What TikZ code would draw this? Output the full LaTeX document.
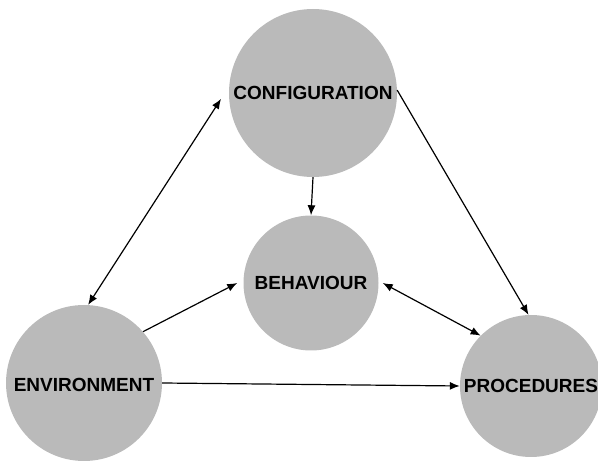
\documentclass[tikz,border=0pt]{standalone}
\usepackage{fontspec}
\newfontfamily\tagfont{Liberation Sans}
\usetikzlibrary{arrows.meta}

\begin{document}
\begin{tikzpicture}[
      x=1pt, y=-1pt,
      ball/.style={circle, fill=black!27, draw=none, inner sep=0pt},
      tag/.style={inner sep=0pt, font=\tagfont\bfseries\fontsize{19}{19}\selectfont},
      one_way/.style={line width=1.2pt, -{Latex[length=10pt,width=8pt]}},
      two_way/.style={line width=1.2pt, {Latex[length=10pt,width=8pt]}-{Latex[length=10pt,width=8pt]}}
    ]

    % ------------------------------------------------------------------ %
    % Frame
    % ------------------------------------------------------------------ %

    \useasboundingbox (0,0) rectangle (598,462);

    % ------------------------------------------------------------------ %
    % Circles
    % ------------------------------------------------------------------ %

    \node[ball, minimum size=168pt] (config) at (313,93) {};
    \node[ball, minimum size=135pt] (behav) at (311,283) {};
    \node[ball, minimum size=156pt] (env) at (84,383) {};
    \node[ball, minimum size=142pt] (proc) at (531,386) {};

    % ------------------------------------------------------------------ %
    % Labels
    % ------------------------------------------------------------------ %

    \node[tag] (configtxt) at (config) {CONFIGURATION};
    \node[tag] (behavtxt) at (behav) {BEHAVIOUR};
    \node[tag] (envtxt) at ([yshift=-2pt]env.center) {ENVIRONMENT};
    \node[tag] (proctxt) at (proc) {PROCEDURES};

    % ------------------------------------------------------------------ %
    % Arrows
    % ------------------------------------------------------------------ %

    % configuration <-> environment
    \draw[two_way] ([shift={(-8pt,0pt)}]config.184) -- (env.87);

    % configuration -> procedures
    \draw[one_way] (config.2) -- (proc.92);

    % configuration -> behaviour
    \draw[one_way] (config.south) -- (behav.north);

    % environment -> behaviour
    \draw[one_way] (env.41) -- ([xshift=-6pt]behav.west);

    % behaviour <-> procedures
    \draw[two_way] ([xshift=4pt]behav.east) -- (proc.135);

    % environment -> procedures
    \draw[one_way] (env.east) -- (proc.west);

\end{tikzpicture}
\end{document}
